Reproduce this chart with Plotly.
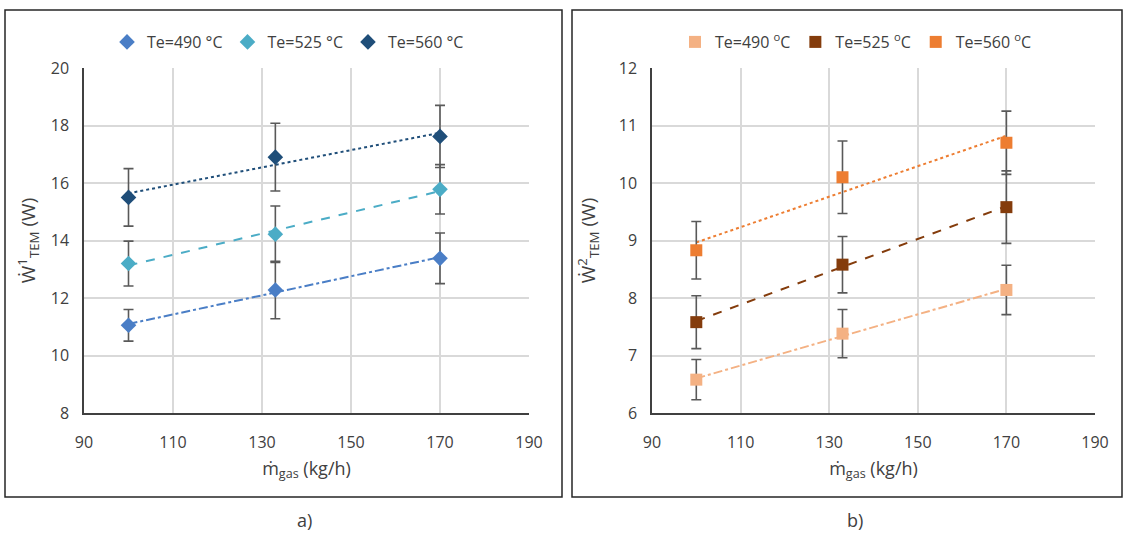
import numpy as np
import plotly.graph_objects as go

# Gas mass flow (kg/h)
m_gas = [100, 133, 170]

# Panel a) power of TEM 1 (W)
w1_490 = [11.05, 12.28, 13.38]
w1_525 = [13.20, 14.22, 15.78]
w1_560 = [15.50, 16.90, 17.62]
w1_490_err = [0.55, 1.00, 0.88]
w1_525_err = [0.78, 0.98, 0.86]
w1_560_err = [1.00, 1.18, 1.08]

# Panel b) power of TEM 2 (W)
w2_490 = [6.58, 7.38, 8.14]
w2_525 = [7.58, 8.58, 9.58]
w2_560 = [8.83, 10.10, 10.70]
w2_490_err = [0.35, 0.42, 0.43]
w2_525_err = [0.46, 0.49, 0.63]
w2_560_err = [0.50, 0.63, 0.55]

labels_a = ["Te=490 °C", "Te=525 °C", "Te=560 °C"]
labels_b = ["Te=490 <sup>o</sup>C", "Te=525 <sup>o</sup>C", "Te=560 <sup>o</sup>C"]
x_ticks = [90, 110, 130, 150, 170, 190]
y_ticks_a = [8, 10, 12, 14, 16, 18, 20]
y_ticks_b = [6, 7, 8, 9, 10, 11, 12]

colors_a = ["#4A7EC6", "#4BACC6", "#1F4E79"]
colors_b = ["#F4B183", "#843C0C", "#ED7D31"]
dashes = ["dashdot", "dash", "dot"]

W, H = 1125, 537
FONT = "Open Sans"

fig = go.Figure()


def add_panel(series, errs, labels, colors, symbol, xa, ya, legend):
    for y, e, lab, col, dsh in zip(series, errs, labels, colors, dashes):
        # linear trendline across the measured flow range
        k, b = np.polyfit(m_gas, y, 1)
        xs = np.array([min(m_gas), max(m_gas)])
        fig.add_trace(go.Scatter(
            x=xs, y=k * xs + b, mode="lines", xaxis=xa, yaxis=ya,
            line=dict(color=col, width=2, dash=dsh),
            showlegend=False, hoverinfo="skip"))
    for y, e, lab, col in zip(series, errs, labels, colors):
        fig.add_trace(go.Scatter(
            x=m_gas, y=y, mode="markers", name=lab, xaxis=xa, yaxis=ya,
            legend=legend,
            marker=dict(symbol=symbol, size=12, color=col),
            error_y=dict(type="data", array=e, visible=True,
                         color="#595959", thickness=1.6, width=5)))


add_panel([w1_490, w1_525, w1_560], [w1_490_err, w1_525_err, w1_560_err],
          labels_a, colors_a, "diamond", "x", "y", "legend")
add_panel([w2_490, w2_525, w2_560], [w2_490_err, w2_525_err, w2_560_err],
          labels_b, colors_b, "square", "x2", "y2", "legend2")


def px_x(p):
    return p / W


def px_y(p):
    return 1 - p / H


axis_common = dict(
    showgrid=True, gridcolor="#D9D9D9", gridwidth=1.5,
    zeroline=False, showline=True, linecolor="#404040", linewidth=1.5,
    ticks="", tickfont=dict(family=FONT, size=16, color="#404040"),
    mirror=False,
)

fig.update_layout(
    width=W, height=H,
    margin=dict(l=0, r=0, t=0, b=0, autoexpand=False),
    paper_bgcolor="white", plot_bgcolor="white",
    font=dict(family=FONT, color="#404040"),
    xaxis=dict(domain=[px_x(84), px_x(529)], range=[90, 190], tickvals=x_ticks,
               ticklabelstandoff=14,
               title=dict(text="ṁ<sub>gas</sub> (kg/h)", font=dict(size=18), standoff=10),
               anchor="y", **axis_common),
    yaxis=dict(domain=[px_y(413), px_y(68)], range=[8, 20], tickvals=y_ticks_a,
               ticklabelstandoff=10,
               title=dict(text="Ẇ<sup>1</sup><sub>TEM</sub> (W)", font=dict(size=19), standoff=10),
               anchor="x", **axis_common),
    xaxis2=dict(domain=[px_x(652), px_x(1095)], range=[90, 190], tickvals=x_ticks,
                ticklabelstandoff=14,
                title=dict(text="ṁ<sub>gas</sub> (kg/h)", font=dict(size=18), standoff=10),
                anchor="y2", **axis_common),
    yaxis2=dict(domain=[px_y(413), px_y(68)], range=[6, 12], tickvals=y_ticks_b,
                ticklabelstandoff=10,
                title=dict(text="Ẇ<sup>2</sup><sub>TEM</sub> (W)", font=dict(size=19), standoff=18),
                anchor="x2", **axis_common),
    legend=dict(orientation="h", x=px_x(288), xanchor="center", y=px_y(42), yanchor="middle",
                font=dict(family=FONT, size=16, color="#404040"), itemwidth=30,
                bgcolor="rgba(0,0,0,0)"),
    legend2=dict(orientation="h", x=px_x(856), xanchor="center", y=px_y(42), yanchor="middle",
                 font=dict(family=FONT, size=16, color="#404040"), itemwidth=30,
                 bgcolor="rgba(0,0,0,0)"),
    showlegend=True,
)

# panel frames
for x0, x1 in [(5, 562), (572, 1122)]:
    fig.add_shape(type="rect", xref="paper", yref="paper",
                  x0=px_x(x0), x1=px_x(x1), y0=px_y(497), y1=px_y(10),
                  line=dict(color="#262626", width=1.5), fillcolor="rgba(0,0,0,0)")

for txt, xc in [("a)", 295), ("b)", 865)]:
    fig.add_annotation(text=txt, xref="paper", yref="paper", x=px_x(xc), y=px_y(520),
                       yanchor="middle", showarrow=False,
                       font=dict(family=FONT, size=18, color="#404040"))

fig.write_html("out.html")
